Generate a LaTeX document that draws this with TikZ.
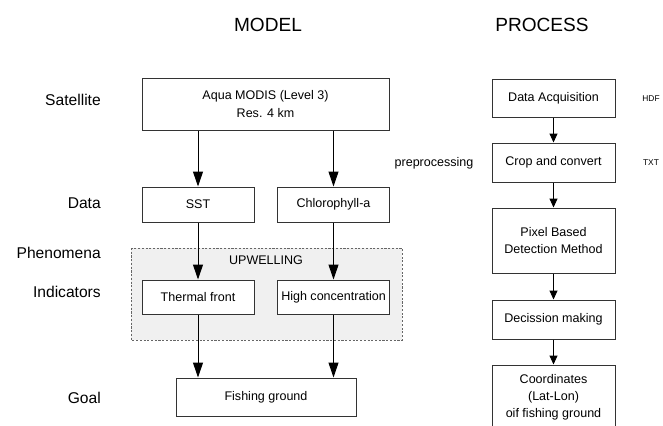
\documentclass[tikz,border=0pt]{standalone}
\usepackage{fontspec}
\setmainfont{Liberation Sans}
\usetikzlibrary{arrows.meta}
\begin{document}
\begin{tikzpicture}[x=0.75pt,y=-0.75pt,
  box/.style={draw=black!80,line width=0.75pt,fill=white,inner sep=0pt,align=center,
    font=\fontsize{9.4}{12.75}\selectfont},
  lbl/.style={anchor=east,inner sep=0pt,font=\fontsize{11.7}{14}\selectfont},
  ttl/.style={inner sep=0pt,font=\fontsize{14.3}{17}\selectfont},
  small/.style={inner sep=0pt,font=\fontsize{6.3}{8}\selectfont},
  arrL/.style={line width=0.75pt,-{Triangle[length=11.25pt,width=7.5pt]}},
  arrR/.style={line width=0.75pt,-{Triangle[length=6.75pt,width=6pt]}}]
\useasboundingbox (0,0) rectangle (663,425);
\clip (0,0) rectangle (663,425);
% titles
\node[ttl] (tmodel) at (268,25) {MODEL};
\node[ttl] (tproc) at (542,25) {PROCESS};
% left labels
\node[lbl] (lsat) at (101,100) {Satellite};
\node[lbl] (ldata) at (101,203) {Data};
\node[lbl] (lphen) at (101,253) {Phenomena};
\node[lbl] (lind) at (101,292) {Indicators};
\node[lbl] (lgoal) at (101,398) {Goal};
% upwelling region
\draw[draw=black!60,fill=black!6,dash pattern=on 1.6pt off 1.2pt,line width=0.6pt]
  (131,248) rectangle (402,340);
\node[inner sep=0pt,font=\fontsize{9.4}{12}\selectfont] (upw) at (266,260) {UPWELLING};
% model boxes
\node[box,minimum width=185.25pt,minimum height=39pt] (aqua) at (265.5,104)
  {Aqua MODIS (Level 3)\\[0.75pt]Res. 4 km};
\node[box,minimum width=84pt,minimum height=26.25pt] (sst) at (198,204.5) {SST};
\node[box,minimum width=84pt,minimum height=26.25pt] (chl) at (333.5,204.5) {Chlorophyll-a};
\node[box,minimum width=84pt,minimum height=25.5pt] (thermal) at (198,297) {Thermal front};
\node[box,minimum width=84pt,minimum height=25.5pt] (high) at (333.5,297) {High concentration};
\node[box,minimum width=135pt,minimum height=28.5pt] (fish) at (266,397) {Fishing ground};
% model arrows
\draw[arrL] (aqua.south -| sst.north) -- (sst.north);
\draw[arrL] (aqua.south -| chl.north) -- (chl.north);
\draw[arrL] (sst.south) -- (thermal.north);
\draw[arrL] (chl.south) -- (high.north);
\draw[arrL] (thermal.south) -- (thermal.south |- fish.north);
\draw[arrL] (high.south) -- (high.south |- fish.north);
% process boxes
\node[box,minimum width=92.25pt,minimum height=28.5pt] (acq) at (553.5,98) {Data Acquisition};
\node[box,minimum width=92.25pt,minimum height=29.25pt] (crop) at (553.5,162.5) {Crop and convert};
\node[box,minimum width=92.25pt,minimum height=48.75pt] (pix) at (553.5,240.5) {Pixel Based\\Detection Method};
\node[box,minimum width=92.25pt,minimum height=29.25pt] (dec) at (553.5,319.5) {Decission making};
\node[box,minimum width=92.25pt,minimum height=48pt] (coord) at (553.5,397) {Coordinates\\(Lat-Lon)\\oif fishing ground};
% process arrows
\draw[arrR] (acq.south) -- (crop.north);
\draw[arrR] (crop.south) -- (pix.north);
\draw[arrR] (pix.south) -- (dec.north);
\draw[arrR] (dec.south) -- (coord.north);
% side notes
\node[inner sep=0pt,font=\fontsize{9.4}{12}\selectfont] (pre) at (434,163) {preprocessing};
\node[small] (hdf) at (651,99) {HDF};
\node[small] (txt) at (651,163) {TXT};
\end{tikzpicture}
\end{document}
